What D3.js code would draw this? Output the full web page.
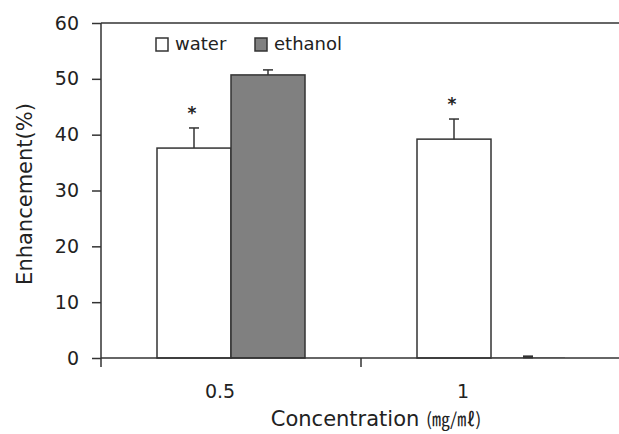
<!DOCTYPE html>
<html>
<head>
<meta charset="utf-8">
<script src="https://cdn.jsdelivr.net/npm/d3@7"></script>
<style>
    body { margin: 0; background: #fff; }
    text { font-family: "DejaVu Sans", Verdana, sans-serif; fill: #222; }
</style>
</head>
<body>
<svg id="chart" width="619" height="434"></svg>
<script>
// data
var concentrations = ["0.5", "1"];
var series = ["water", "ethanol"];
var waterMeans = [37.6, 39.2];
var waterErr = [3.6, 3.6];
var ethanolMeans = [50.7, 0.1];
var ethanolErr = [0.9, 0.1];
var significant = [true, true]; // asterisk over the water bar
var yTicks = [0, 10, 20, 30, 40, 50, 60];

var svg = d3.select("#chart");
var margin = {left: 101, top: 23, right: 0, bottom: 76};
var width = 619 - margin.left - margin.right,
    height = 434 - margin.top - margin.bottom;

var g = svg.append("g").attr("transform", "translate(" + margin.left + "," + margin.top + ")");

var x0 = d3.scaleBand().domain(concentrations).range([0, 520]).paddingInner(0).paddingOuter(0);
var x1 = d3.scaleBand().domain(series).range([0, 148]);
var y = d3.scaleLinear().domain([0, 60]).range([height, 0]);

var rows = [];
for (var i = 0; i < concentrations.length; i++) {
    rows.push({c: concentrations[i], s: "water", v: waterMeans[i], e: waterErr[i]});
    rows.push({c: concentrations[i], s: "ethanol", v: ethanolMeans[i], e: ethanolErr[i]});
}
var groupOffset = (x0.bandwidth() - 148) / 2;
var barX = function (d) { return x0(d.c) + groupOffset + x1(d.s); };
var stroke = "#333";

// bars
g.selectAll("rect.bar")
    .data(rows)
    .enter()
    .append("rect")
    .attr("class", "bar")
    .attr("x", barX)
    .attr("y", function (d) { return y(d.v); })
    .attr("width", x1.bandwidth())
    .attr("height", function (d) { return height - y(d.v); })
    .attr("fill", function (d) { return d.s == "water" ? "#fff" : "#808080"; })
    .attr("stroke", stroke)
    .attr("stroke-width", function (d) { return d.v < 1 ? 0 : 1.5; });

// error bars (upper only)
var eb = g.selectAll("g.err").data(rows).enter().append("g").attr("class", "err");
eb.append("line")
    .attr("x1", function (d) { return barX(d) + x1.bandwidth() / 2; })
    .attr("x2", function (d) { return barX(d) + x1.bandwidth() / 2; })
    .attr("y1", function (d) { return y(d.v); })
    .attr("y2", function (d) { return y(d.v + d.e); })
    .attr("stroke", stroke).attr("stroke-width", 1.5);
eb.append("line")
    .attr("x1", function (d) { return barX(d) + x1.bandwidth() / 2 - 5; })
    .attr("x2", function (d) { return barX(d) + x1.bandwidth() / 2 + 5; })
    .attr("y1", function (d) { return y(d.v + d.e); })
    .attr("y2", function (d) { return y(d.v + d.e); })
    .attr("stroke", stroke).attr("stroke-width", function (d) { return d.v < 1 ? 3 : 1.5; });

// asterisks
g.selectAll("text.star")
    .data(rows.filter(function (d) { return d.s == "water" && significant[concentrations.indexOf(d.c)]; }))
    .enter()
    .append("text")
    .attr("class", "star")
    .attr("x", function (d) { return barX(d) + x1.bandwidth() / 2 - 2; })
    .attr("y", function (d) { return y(d.v + d.e) - 9; })
    .attr("text-anchor", "middle")
    .style("font-size", "17px")
    .style("font-weight", "bold")
    .text("*");

// y axis
var yAxis = g.append("g")
    .call(d3.axisLeft(y).tickValues(yTicks).tickSize(9).tickPadding(13));
yAxis.select(".domain").attr("stroke", stroke).attr("stroke-width", 1.5).attr("d", "M0," + height + "V0");
yAxis.selectAll(".tick line").attr("stroke", stroke).attr("stroke-width", 1.5);
yAxis.selectAll(".tick text").style("font-size", "19px").style("fill", "#222");

// top frame line
g.append("line")
    .attr("x1", 0).attr("x2", width)
    .attr("y1", y(60)).attr("y2", y(60))
    .attr("stroke", stroke).attr("stroke-width", 1.5);

// x axis
g.append("line")
    .attr("x1", 0).attr("x2", width)
    .attr("y1", height).attr("y2", height)
    .attr("stroke", stroke).attr("stroke-width", 1.5);
g.selectAll("line.xtick")
    .data(concentrations)
    .enter()
    .append("line")
    .attr("class", "xtick")
    .attr("x1", function (d) { return x0(d); })
    .attr("x2", function (d) { return x0(d); })
    .attr("y1", height).attr("y2", height + 9)
    .attr("stroke", stroke).attr("stroke-width", 1.5);

var labelShift = [-11, -28];
g.selectAll("text.xlab")
    .data(concentrations)
    .enter()
    .append("text")
    .attr("class", "xlab")
    .attr("x", function (d, i) { return x0(d) + x0.bandwidth() / 2 + labelShift[i]; })
    .attr("y", height + 40)
    .attr("text-anchor", "middle")
    .style("font-size", "19px")
    .text(function (d) { return d; });

// axis titles
svg.append("text")
    .attr("x", 376).attr("y", 426)
    .attr("text-anchor", "middle")
    .style("font-size", "21px")
    .html('Concentration <tspan style="font-family:\'Noto Sans CJK KR\';font-size:18px">(㎎/㎖)</tspan>');

svg.append("text")
    .attr("transform", "translate(32,194) rotate(-90)")
    .attr("text-anchor", "middle")
    .style("font-size", "21px")
    .text("Enhancement(%)");

// legend
var legend = svg.append("g").attr("transform", "translate(156,38)");
var legX = [0, 99];
series.forEach(function (s, i) {
    legend.append("rect")
        .attr("x", legX[i]).attr("y", 0)
        .attr("width", 12).attr("height", 13)
        .attr("fill", s == "water" ? "#fff" : "#808080")
        .attr("stroke", stroke).attr("stroke-width", 1.5);
    legend.append("text")
        .attr("x", legX[i] + 19).attr("y", 12)
        .style("font-size", "18px")
        .text(s);
});
</script>
</body>
</html>
